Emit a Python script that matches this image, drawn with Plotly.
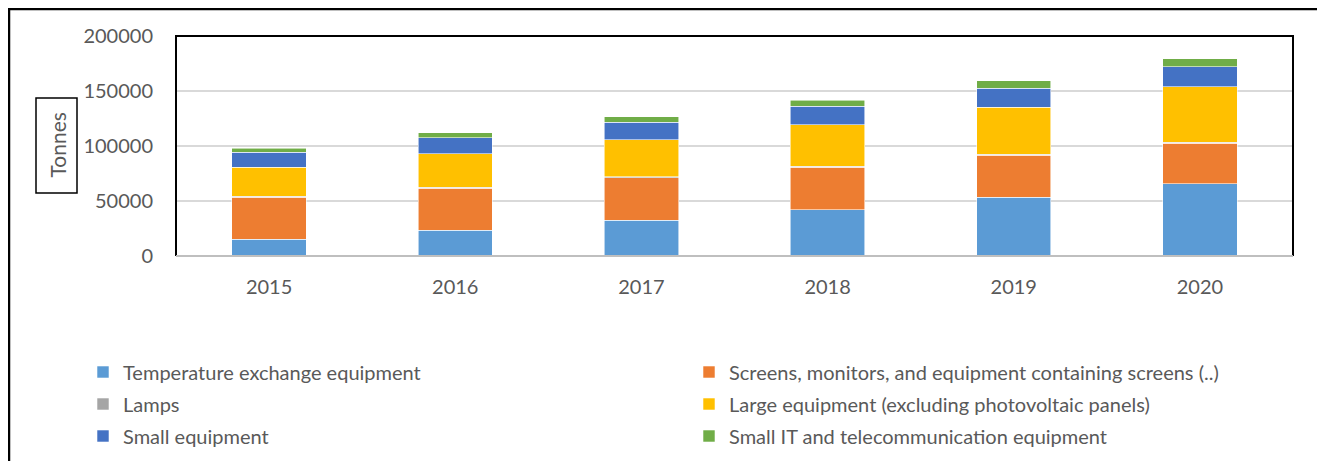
import plotly.graph_objects as go

years = ["2015", "2016", "2017", "2018", "2019", "2020"]
temperature = [15300, 23500, 32600, 42000, 53200, 65600]
screens = [37900, 38200, 38500, 38700, 38200, 36900]
lamps = [1000, 1000, 1000, 1000, 1000, 1000]
large = [26300, 30300, 33800, 37500, 42900, 50300]
small = [13900, 14500, 15700, 16900, 17300, 18200]
small_it = [3600, 4500, 5200, 5400, 6700, 7300]

series_names = [
    "Temperature exchange equipment",
    "Screens, monitors, and equipment containing screens (..)",
    "Lamps",
    "Large equipment (excluding photovoltaic panels)",
    "Small equipment",
    "Small IT and telecommunication equipment",
]
series_values = [temperature, screens, lamps, large, small, small_it]
colors = ["#5B9BD5", "#ED7D31", "#A5A5A5", "#FFC000", "#4472C4", "#70AD47"]
legend_ids = ["legend", "legend", "legend2", "legend2", "legend3", "legend3"]

FONT = "Lato"
TXT = "#595959"

fig = go.Figure()
for name, vals, col, lg in zip(series_names, series_values, colors, legend_ids):
    fig.add_trace(go.Bar(
        x=years, y=vals, name=name,
        marker=dict(color=col, line=dict(color="rgba(255,255,255,0.7)", width=0.8)),
        legend=lg,
    ))

# page body has an 8px margin: work in screen coordinates and convert
OFF = 8
W, H = 1325 - OFF, 461 - OFF
PL, PT, PR, PB = 176, 36, 1293, 256  # plot area in screen px
L, T = PL - OFF, PT - OFF
R, B = W - (PR - OFF), H - (PB - OFF)
pw = PR - PL
ph = PB - PT

def px(sx):
    return (sx - PL) / pw

def py(sy):
    return (PB - sy) / ph

leg_common = dict(
    orientation="h", xanchor="left", yanchor="middle", traceorder="normal",
    font=dict(family=FONT, size=20, color=TXT),
    entrywidth=561, entrywidthmode="pixels",
    bgcolor="rgba(0,0,0,0)", itemclick=False,
)
fig.update_layout(
    width=W, height=H,
    margin=dict(l=L, r=R, t=T, b=B, autoexpand=False),
    paper_bgcolor="white", plot_bgcolor="white",
    barmode="stack", bargap=0.6,
    font=dict(family=FONT, size=20, color=TXT),
    legend=dict(x=px(83), y=py(374 - 2), **leg_common),
    legend2=dict(x=px(83), y=py(406 - 2), **leg_common),
    legend3=dict(x=px(83), y=py(438 - 2), **leg_common),
    xaxis=dict(
        showgrid=False, ticks="", showline=False, zeroline=False,
        tickfont=dict(family=FONT, size=20, color=TXT),
        ticklabelstandoff=17,
    ),
    yaxis=dict(
        range=[0, 200000], tickvals=[0, 50000, 100000, 150000, 200000],
        tickformat="d", showgrid=True, gridcolor="#D9D9D9", gridwidth=1.5,
        zeroline=False, showline=False, ticks="",
        tickfont=dict(family=FONT, size=20, color=TXT),
        ticklabelstandoff=22,
    ),
)

# plot area frame: black left/top/right, gray bottom axis
fig.add_shape(type="path", path="M0,0 L0,1 L1,1 L1,0", xref="paper", yref="paper",
              line=dict(color="black", width=2), layer="above")
fig.add_shape(type="line", x0=0, x1=1, y0=0, y1=0, xref="paper", yref="paper",
              line=dict(color="#BFBFBF", width=2), layer="above")
# outer chart border (bottom edge runs off the page)
fig.add_shape(type="rect", x0=px(OFF + 1), x1=px(1322), y0=py(OFF + 1), y1=py(500),
              xref="paper", yref="paper", line=dict(color="black", width=2.5))
# axis title box
fig.add_shape(type="rect", x0=px(36), x1=px(77), y0=py(98), y1=py(193),
              xref="paper", yref="paper", line=dict(color="black", width=1.5))
fig.add_annotation(text="Tonnes", x=px(57), y=py(145.5), xref="paper", yref="paper",
                   xanchor="center", yanchor="middle",
                   showarrow=False, textangle=-90,
                   font=dict(family=FONT, size=21, color=TXT))

fig.write_html("out.html")
